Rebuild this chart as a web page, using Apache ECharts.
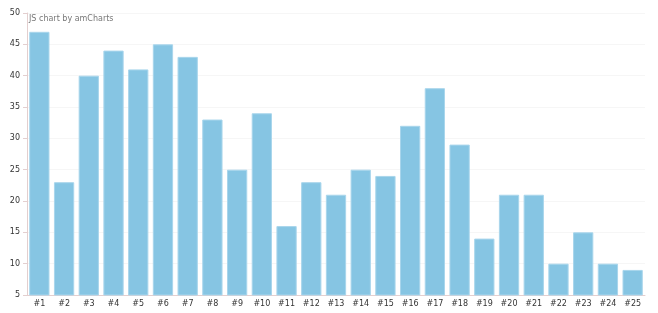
<!DOCTYPE html>
<html><head><meta charset="utf-8">
<script src="https://cdn.jsdelivr.net/npm/echarts@6/dist/echarts.min.js"></script>
<style>html,body{margin:0;padding:0;background:#fff}#c{width:658px;height:313px}</style>
</head><body><div id="c"></div>
<script>
const categories = ["#1","#2","#3","#4","#5","#6","#7","#8","#9","#10","#11","#12","#13","#14","#15","#16","#17","#18","#19","#20","#21","#22","#23","#24","#25"];
const values = [47,23,40,44,41,45,43,33,25,34,16,23,21,25,24,32,38,29,14,21,21,10,15,10,9];
const yTicks = {min:5, max:50, interval:5};
const chart = echarts.init(document.getElementById('c'));
chart.setOption({
  animation:false,
  title:{text:'JS chart by amCharts', left:24, top:10, textStyle:{fontSize:8, fontWeight:'normal', color:'#777', fontFamily:'Verdana, DejaVu Sans'}},
  grid:{left:27, right:13, top:13, bottom:18},
  xAxis:{type:'category', data:categories,
    axisLine:{lineStyle:{color:'#e3cfcf'}},
    axisTick:{length:13, lineStyle:{color:'#e3cfcf'}},
    axisLabel:{fontSize:8, color:'#333', margin:5, fontFamily:'Verdana, DejaVu Sans'}},
  yAxis:{type:'value', min:yTicks.min, max:yTicks.max, interval:yTicks.interval,
    axisLine:{show:true, lineStyle:{color:'#e3cfcf'}},
    axisTick:{show:true, length:4, lineStyle:{color:'#e3cfcf'}},
    splitLine:{lineStyle:{color:'#f6f6f6'}},
    axisLabel:{fontSize:8, color:'#333', margin:7, fontFamily:'Verdana, DejaVu Sans'}},
  series:[{type:'bar', data:values, barCategoryGap:'18%',
    itemStyle:{color:'#86c5e3', borderColor:'#a9d6ec', borderWidth:1}}]
});
</script></body></html>
